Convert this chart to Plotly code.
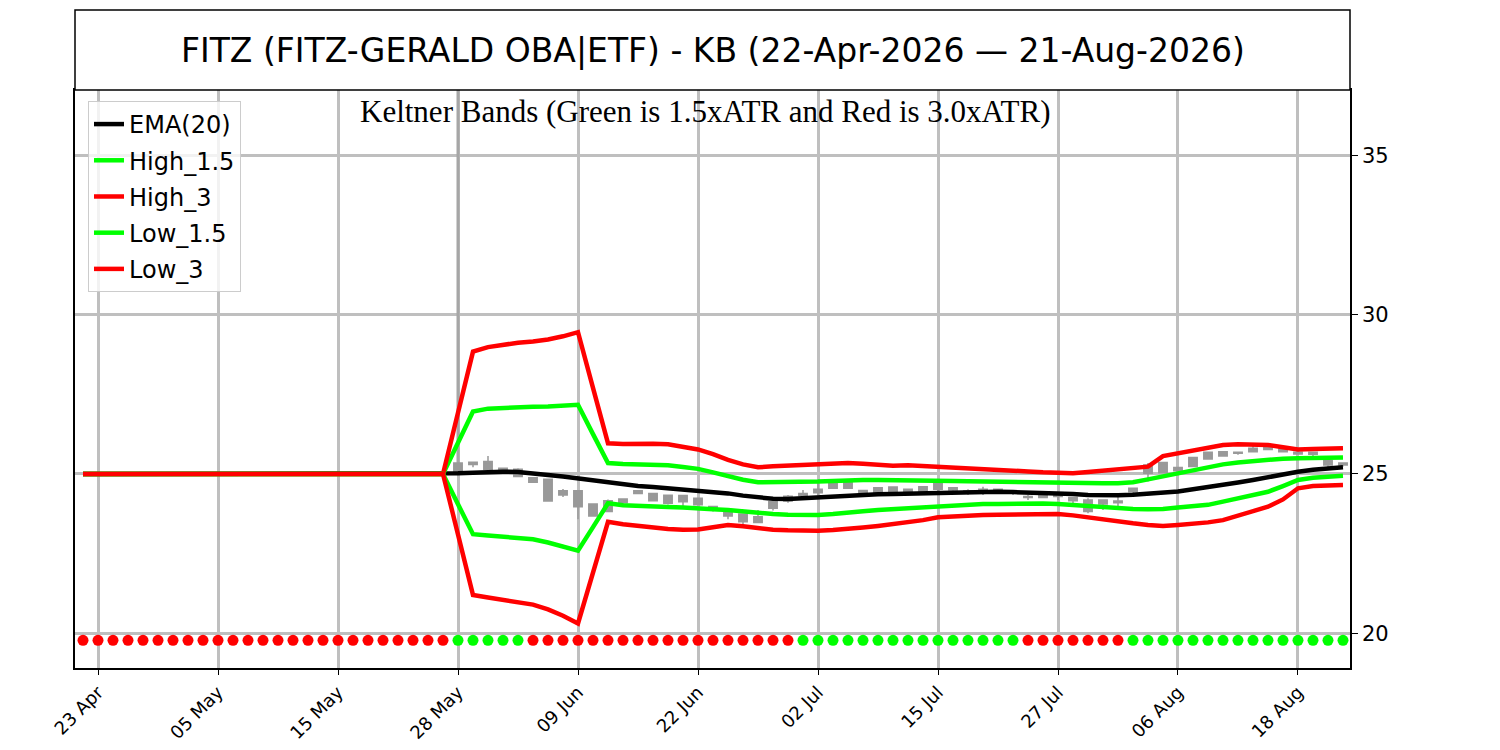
import plotly.graph_objects as go

# ---------------- data ----------------
tick_idx = [1, 9, 17, 25, 33, 41, 49, 57, 65, 73, 81]
tick_labels = ["23 Apr", "05 May", "15 May", "28 May", "09 Jun", "22 Jun",
               "02 Jul", "15 Jul", "27 Jul", "06 Aug", "18 Aug"]
n_days = 85
flat = [25.0] * 25  # indices 0..24

ema_tail = [25.02, 25.04, 25.07, 25.07, 25.06, 25.03, 24.97, 24.92, 24.86, 24.80,
            24.73, 24.67, 24.62, 24.59, 24.55, 24.52, 24.50, 24.45, 24.39, 24.32,
            24.26, 24.22, 24.21, 24.24, 24.27, 24.30, 24.32, 24.34, 24.36, 24.37,
            24.38, 24.40, 24.42, 24.43, 24.44, 24.44, 24.44, 24.43, 24.42, 24.41,
            24.39, 24.37, 24.34, 24.33, 24.33, 24.35, 24.38, 24.41, 24.45, 24.52,
            24.58, 24.65, 24.73, 24.81, 24.90, 24.98, 25.07, 25.13, 25.18, 25.21]
high3_tail = [26.92, 28.84, 28.98, 29.06, 29.12, 29.16, 29.22, 29.32, 29.45, 27.70,
              25.96, 25.94, 25.95, 25.95, 25.93, 25.86, 25.77, 25.62, 25.44, 25.30,
              25.21, 25.24, 25.26, 25.27, 25.28, 25.31, 25.34, 25.32, 25.29, 25.26,
              25.27, 25.25, 25.23, 25.20, 25.17, 25.15, 25.14, 25.12, 25.08, 25.05,
              25.02, 25.02, 25.06, 25.10, 25.13, 25.16, 25.23, 25.56, 25.65, 25.74,
              25.81, 25.91, 25.93, 25.92, 25.91, 25.84, 25.77, 25.78, 25.80, 25.81]
high15_tail = [25.98, 26.96, 27.05, 27.08, 27.10, 27.11, 27.12, 27.14, 27.17, 26.25,
               25.34, 25.31, 25.30, 25.29, 25.27, 25.22, 25.16, 25.05, 24.92, 24.82,
               24.74, 24.74, 24.75, 24.75, 24.76, 24.78, 24.81, 24.81, 24.81, 24.81,
               24.80, 24.80, 24.79, 24.78, 24.77, 24.76, 24.75, 24.74, 24.73, 24.72,
               24.71, 24.70, 24.70, 24.71, 24.71, 24.74, 24.83, 24.93, 25.02, 25.13,
               25.23, 25.30, 25.36, 25.40, 25.46, 25.48, 25.49, 25.50, 25.51, 25.52]
low15_tail = [24.05, 23.11, 23.07, 23.04, 23.00, 22.95, 22.85, 22.72, 22.59, 23.33,
              24.08, 24.02, 23.99, 23.97, 23.96, 23.95, 23.91, 23.89, 23.87, 23.82,
              23.77, 23.74, 23.72, 23.71, 23.71, 23.74, 23.77, 23.83, 23.87, 23.90,
              23.93, 23.96, 24.00, 24.03, 24.05, 24.06, 24.06, 24.07, 24.07, 24.07,
              24.06, 24.03, 23.97, 23.95, 23.93, 23.90, 23.89, 23.90, 23.95, 23.99,
              24.03, 24.13, 24.23, 24.33, 24.44, 24.62, 24.81, 24.88, 24.92, 24.94]
low3_tail = [23.10, 21.20, 21.12, 21.05, 20.98, 20.90, 20.75, 20.55, 20.31, 21.90,
             23.50, 23.42, 23.36, 23.30, 23.27, 23.25, 23.26, 23.33, 23.40, 23.36,
             23.30, 23.25, 23.23, 23.22, 23.22, 23.24, 23.27, 23.32, 23.37, 23.42,
             23.48, 23.55, 23.64, 23.67, 23.70, 23.71, 23.72, 23.73, 23.74, 23.74,
             23.74, 23.70, 23.63, 23.56, 23.50, 23.45, 23.40, 23.37, 23.40, 23.43,
             23.48, 23.55, 23.70, 23.85, 23.97, 24.20, 24.55, 24.62, 24.64, 24.65]

ema20 = flat + ema_tail
high_15 = flat + high15_tail
high_3 = flat + high3_tail
low_15 = flat + low15_tail
low_3 = flat + low3_tail

# candles (indices 25..84)
candle_idx = list(range(25, 85))
c_open = [25.07, 25.30, 25.15, 25.18, 25.15, 24.88, 24.83, 24.34, 24.47, 24.06,
          23.82, 24.21, 24.39, 24.39, 24.33, 24.13, 24.24, 23.98, 23.82, 23.74,
          23.48, 23.92, 24.15, 24.32, 24.41, 24.55, 24.73, 24.48, 24.41, 24.59,
          24.44, 24.39, 24.52, 24.57, 24.43, 24.44, 24.52, 24.45, 24.29, 24.26,
          24.29, 24.26, 24.18, 24.18, 24.10, 24.44, 25.02, 25.04, 25.20, 25.23,
          25.47, 25.56, 25.68, 25.70, 25.77, 25.78, 25.68, 25.68, 25.42, 25.28]
c_close = [25.34, 25.37, 25.39, 25.13, 24.92, 24.74, 24.15, 24.47, 23.97, 23.68,
           24.16, 24.10, 24.47, 24.16, 24.08, 24.32, 24.03, 23.92, 23.68, 23.50,
           23.66, 24.13, 24.30, 24.39, 24.52, 24.76, 24.55, 24.42, 24.57, 24.41,
           24.52, 24.60, 24.69, 24.50, 24.47, 24.52, 24.48, 24.40, 24.26, 24.34,
           24.33, 24.16, 23.82, 24.06, 24.15, 24.55, 25.28, 25.36, 25.10, 25.52,
           25.68, 25.70, 25.65, 25.81, 25.88, 25.70, 25.63, 25.62, 25.28, 25.34]
c_high = [25.36, 25.38, 25.56, 25.19, 25.18, 24.89, 24.84, 24.53, 24.48, 24.07,
          24.20, 24.22, 24.50, 24.40, 24.34, 24.33, 24.25, 24.00, 23.89, 23.75,
          23.87, 24.14, 24.34, 24.50, 24.71, 24.81, 24.74, 24.49, 24.58, 24.60,
          24.53, 24.61, 24.70, 24.58, 24.52, 24.60, 24.53, 24.47, 24.34, 24.35,
          24.44, 24.27, 24.24, 24.19, 24.31, 24.56, 25.34, 25.37, 25.21, 25.53,
          25.69, 25.71, 25.69, 25.91, 25.89, 25.79, 25.69, 25.69, 25.46, 25.35]
c_low = [25.05, 25.21, 25.14, 25.04, 24.91, 24.73, 24.14, 24.28, 23.58, 23.67,
         23.81, 23.97, 24.37, 24.15, 24.04, 23.95, 24.02, 23.82, 23.58, 23.42,
         23.47, 23.85, 24.10, 24.24, 24.34, 24.54, 24.54, 24.41, 24.40, 24.40,
         24.34, 24.38, 24.44, 24.41, 24.34, 24.34, 24.41, 24.34, 24.18, 24.24,
         24.18, 24.06, 23.77, 23.87, 23.95, 24.29, 24.76, 25.03, 25.09, 25.22,
         25.46, 25.55, 25.60, 25.69, 25.76, 25.69, 25.62, 25.56, 25.13, 25.23]

# signal dots along the bottom (1 = green, 0 = red)
signal = ([0] * 25 + [1] * 5 + [0] * 18 + [1] * 15 + [0] * 7 + [1] * 15)
signal_level = 19.78

# ---------------- figure ----------------
x_all = list(range(n_days))
fig = go.Figure()

fig.add_trace(go.Candlestick(
    x=candle_idx, open=c_open, high=c_high, low=c_low, close=c_close,
    increasing=dict(line=dict(color="#999999", width=1.5), fillcolor="#999999"),
    decreasing=dict(line=dict(color="#999999", width=1.5), fillcolor="#999999"),
    whiskerwidth=0, showlegend=False, hoverinfo="skip"))

line_specs = [("EMA(20)", ema20, "#000000"),
              ("High_1.5", high_15, "#00ff00"),
              ("High_3", high_3, "#ff0000"),
              ("Low_1.5", low_15, "#00ff00"),
              ("Low_3", low_3, "#ff0000")]
for i, (name, vals, col) in enumerate(line_specs):
    fig.add_trace(go.Scatter(x=x_all, y=vals, mode="lines", name=name,
                             line=dict(color=col, width=4.5),
                             legendgroup=f"g{i}"))

fig.add_trace(go.Scatter(
    x=x_all, y=[signal_level] * n_days, mode="markers",
    marker=dict(size=11, color=["#00ff00" if s else "#ff0000" for s in signal],
                line=dict(width=0)),
    showlegend=False, hoverinfo="skip"))

# page body adds an 8px offset; figure is sized so plot area lands at 75..1350 x 90..668
W, H = 1492, 742
ML, MR, MT, MB = 67, 150, 82, 82
plot_h = H - MT - MB

y_lo, y_hi = 18.91, 37.05
fig.update_layout(
    width=W, height=H,
    margin=dict(l=ML, r=MR, t=MT, b=MB, autoexpand=False),
    paper_bgcolor="white", plot_bgcolor="white",
    font=dict(family="DejaVu Sans", color="black", size=16),
    boxgap=0.2, boxgroupgap=0.3,
    showlegend=True,
    legend=dict(x=0.0102, y=0.981, xanchor="left", yanchor="top",
                bgcolor="rgba(255,255,255,0.8)", bordercolor="#cccccc",
                borderwidth=1, font=dict(size=24, family="DejaVu Sans"),
                itemwidth=30, tracegroupgap=2),
    xaxis=dict(range=[-0.533, 84.467], tickmode="array", tickvals=tick_idx,
               ticktext=tick_labels, tickangle=-45, showgrid=True,
               gridcolor="#bfbfbf", gridwidth=3, showline=True, linecolor="black",
               linewidth=1.5, mirror=True, ticks="outside", ticklen=5,
               tickcolor="black", tickfont=dict(size=18), zeroline=False,
               automargin=False, rangeslider=dict(visible=False)),
    yaxis=dict(range=[y_lo, y_hi], side="right", tickvals=[20, 25, 30, 35],
               showgrid=True, gridcolor="#bfbfbf", gridwidth=3, showline=True,
               linecolor="black", linewidth=1.5, mirror=True, ticks="outside",
               ticklen=6, tickcolor="black", tickfont=dict(size=21),
               automargin=False, zeroline=False),
)

box_top = 1 + 80 / plot_h
fig.add_shape(type="rect", xref="paper", yref="paper", x0=0, x1=1, y0=1, y1=box_top,
              line=dict(color="black", width=1.5), fillcolor="white")
fig.add_shape(type="line", xref="x", yref="y", x0=25, x1=25, y0=25, y1=y_hi,
              line=dict(color="#a6a6a6", width=3), layer="between")

fig.add_annotation(text="FITZ (FITZ-GERALD OBA|ETF) - KB (22-Apr-2026 \u2014 21-Aug-2026)",
                   xref="paper", yref="paper", x=0.5, y=1 + 40 / plot_h,
                   showarrow=False, font=dict(size=33, family="DejaVu Sans"),
                   xanchor="center", yanchor="middle")
fig.add_annotation(text="Keltner Bands (Green is 1.5xATR and Red is 3.0xATR)",
                   xref="paper", yref="paper", x=(705 - 75) / 1275, y=1 - 21 / plot_h,
                   showarrow=False, font=dict(size=31, family="Liberation Serif"),
                   xanchor="center", yanchor="middle")

fig.write_html("out.html")
